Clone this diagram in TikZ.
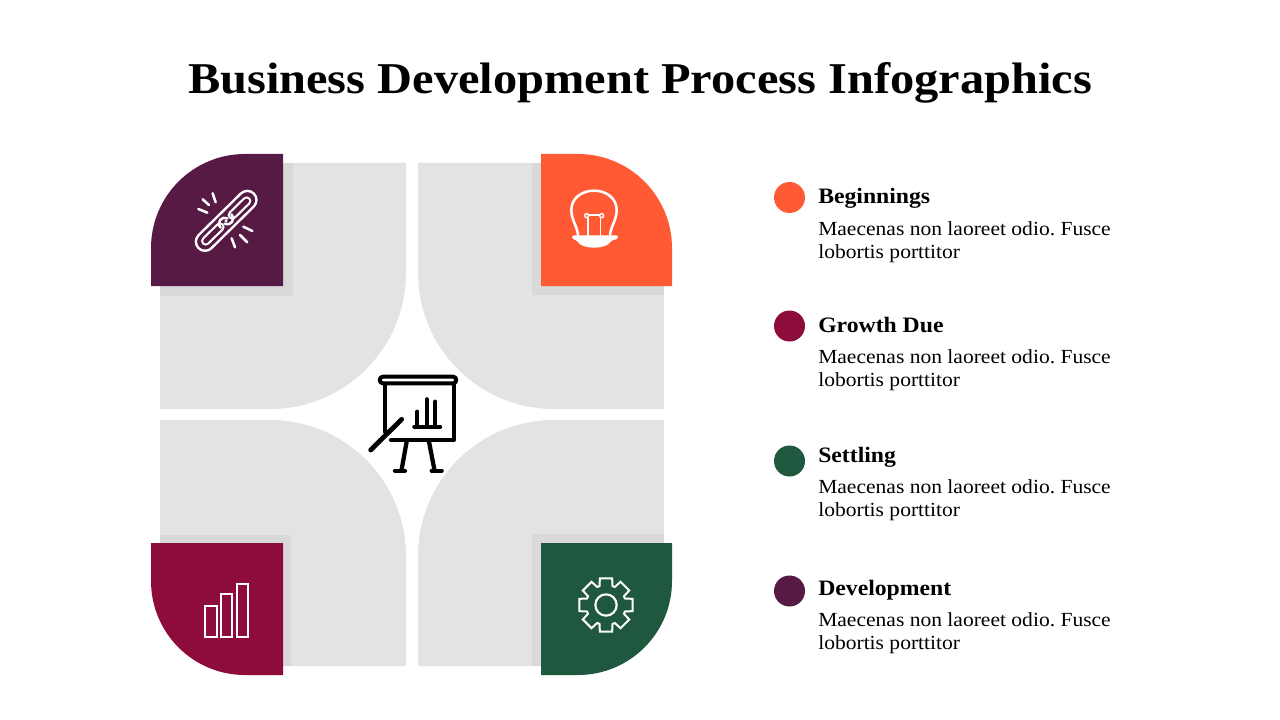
\documentclass[tikz,border=0pt]{standalone}
\usepackage{fontspec}
\setmainfont{Liberation Serif}
\newfontfamily\titlefont[FakeStretch=1.10]{Liberation Serif}
\newfontfamily\bodyfont[FakeStretch=1.077]{Liberation Serif}
\definecolor{cgray}{HTML}{E3E3E3}
\definecolor{cshadow}{HTML}{D9D9D9}
\definecolor{cpurple}{HTML}{561A45}
\definecolor{corange}{HTML}{FF5A33}
\definecolor{cmaroon}{HTML}{8E0C3C}
\definecolor{cgreen}{HTML}{20573F}
\tikzset{
  titletext/.style={anchor=base,inner sep=0pt,font=\titlefont\fontsize{33}{38}\selectfont\bfseries},
  headtext/.style={anchor=base west,inner sep=0pt,font=\bodyfont\fontsize{16.5}{20}\selectfont\bfseries},
  bodytext/.style={anchor=base west,inner sep=0pt,font=\bodyfont\fontsize{15}{17.25}\selectfont\frenchspacing},
  dot/.style={circle,inner sep=0pt,minimum size=23.25pt},
  iconline/.style={white,line width=1.9pt,line cap=round,line join=round},
  thinline/.style={white,line width=1.1pt},
  blackline/.style={black,line width=3.2pt,line cap=round,line join=round},
}
\begin{document}
\begin{tikzpicture}[x=0.75pt,y=-0.75pt]
\useasboundingbox (0,0) rectangle (1280,720);
% gray quarter panels
\fill[cgray] (160,163) -- (406,163) -- (406,273) arc[start angle=0,end angle=90,radius=136] -- (160,409) -- cycle;
\fill[cgray] (664,163) -- (418,163) -- (418,273) arc[start angle=180,end angle=90,radius=136] -- (664,409) -- cycle;
\fill[cgray] (160,666) -- (406,666) -- (406,556) arc[start angle=0,end angle=-90,radius=136] -- (160,420) -- cycle;
\fill[cgray] (664,666) -- (418,666) -- (418,556) arc[start angle=180,end angle=270,radius=136] -- (664,420) -- cycle;
% shadows
\fill[cshadow] (160,163) rectangle (293,296);
\fill[cshadow] (532,163) rectangle (664,295);
\fill[cshadow] (160,535) rectangle (291,666);
\fill[cshadow] (532,534) rectangle (664,666);
% white corners outside the rounded tiles
\fill[white] (150,153) rectangle (245,248);
\fill[white] (673,153) rectangle (578,248);
\fill[white] (150,676) rectangle (245,581);
\fill[white] (673,676) rectangle (578,581);
% coloured tiles
\fill[cpurple] (283,154) -- (283,286) -- (151,286) -- (151,248) arc[start angle=180,end angle=270,radius=94] -- cycle;
\fill[corange] (541,154) -- (541,286) -- (672,286) -- (672,248) arc[start angle=0,end angle=-90,radius=94] -- cycle;
\fill[cmaroon] (283,675) -- (283,543) -- (151,543) -- (151,581) arc[start angle=180,end angle=90,radius=94] -- cycle;
\fill[cgreen] (541,675) -- (541,543) -- (672,543) -- (672,581) arc[start angle=0,end angle=90,radius=94] -- cycle;
% link icon
\begin{scope}[shift={(190,185)},x=0.25pt,y=-0.25pt]
 \draw[white,line width=15.5pt,line cap=round] (45,170) -- (172,45);
 \draw[cpurple,line width=11.7pt,line cap=round] (45,170) -- (172,45);
 \draw[white,line width=7pt,line cap=round] (170,48) -- (127,90);
 \draw[cpurple,line width=3.6pt,line cap=round] (170,48) -- (127,90);
 \draw[white,line width=7pt,line cap=round] (47,168) -- (90,126);
 \draw[cpurple,line width=3.6pt,line cap=round] (47,168) -- (90,126);
 \draw[iconline] (92,128) .. controls (78,112) and (95,92) .. (112,100);
 \draw[iconline] (124,88) .. controls (138,104) and (122,124) .. (104,116);
 \fill[white] (108,108) circle (1.3pt);
 \draw[iconline] (38,43) -- (57,60);
 \draw[iconline] (68,25) -- (77,52);
 \draw[iconline] (25,72) -- (52,83);
 \draw[iconline] (160,125) -- (187,138);
 \draw[iconline] (150,150) -- (172,172);
 \draw[iconline] (125,160) -- (135,187);
\end{scope}
% bulb icon
\begin{scope}[shift={(565,185)},x=0.25pt,y=-0.25pt]
 \draw[iconline] (39,150) .. controls (36,122) and (19,105) .. (19,75) .. controls (19,40) and (50,17) .. (87,17) .. controls (124,17) and (155,40) .. (155,75) .. controls (155,105) and (138,122) .. (135,150);
 \draw[thinline] (65,92) circle (6);
 \draw[thinline] (110,92) circle (6);
 \draw[thinline] (71,90) -- (104,90);
 \draw[thinline] (69,98) -- (69,152);
 \draw[thinline] (106,98) -- (106,152);
 \fill[white,rounded corners=1.5pt] (21,151) -- (159,151) -- (159,163) -- (139,165) .. controls (125,194) and (50,194) .. (36,165) -- (21,163) -- cycle;
\end{scope}
% bars icon
\begin{scope}[shift={(140,525)},x=0.25pt,y=-0.25pt]
 \draw[white,line width=1.6pt] (196,244) rectangle (231,335);
 \draw[white,line width=1.6pt] (244,208) rectangle (276,335);
 \draw[white,line width=1.6pt] (292,176) rectangle (325,335);
\end{scope}
% gear icon
\begin{scope}[shift={(606,605)},x=0.25pt,y=-0.25pt]
 \draw[white,line width=1.5pt,line join=miter] (-19:60) \foreach \a in {0,45,...,315}{ -- (\a-19:60) -- (\a-13:82) -- (\a+13:82) -- (\a+19:60)} -- cycle;
 \draw[white,line width=1.6pt] (0,0) circle (32);
\end{scope}
% centre presentation icon
\begin{scope}[shift={(355,360)},x=0.25pt,y=-0.25pt]
 \draw[blackline,line width=3pt,rounded corners=2.5pt] (74,50) rectangle (304,70);
 \draw[blackline] (90,215) -- (90,72);
 \draw[blackline] (296,72) -- (296,240) -- (108,240);
 \draw[blackline,line width=3.6pt] (47,270) -- (140,178);
 \draw[blackline] (155,245) -- (140,328);
 \draw[blackline] (222,245) -- (238,328);
 \draw[blackline] (120,332) -- (150,332);
 \draw[blackline] (230,332) -- (260,332);
 \draw[blackline] (178,200) -- (255,200);
 \draw[blackline] (187,155) -- (187,200);
 \draw[blackline] (215,118) -- (215,200);
 \draw[blackline] (241,125) -- (241,200);
\end{scope}
% title
\node[titletext] (title) at (640,94) {Business Development Process Infographics};
% legend
\node[dot,fill=corange] (d1) at (789.5,197.5) {};
\node[dot,fill=cmaroon] (d2) at (789.5,326) {};
\node[dot,fill=cgreen] (d3) at (789.5,461) {};
\node[dot,fill=cpurple] (d4) at (789.5,591) {};
\node[headtext] (h1) at (818,204) {Beginnings};
\node[headtext] (h2) at (818,332) {Growth Due};
\node[headtext] (h3) at (818,462) {Settling};
\node[headtext] (h4) at (818,595) {Development};
\node[bodytext] (b1a) at (818,235) {Maecenas non laoreet odio. Fusce};
\node[bodytext] (b1b) at (818,258) {lobortis porttitor};
\node[bodytext] (b2a) at (818,363) {Maecenas non laoreet odio. Fusce};
\node[bodytext] (b2b) at (818,386) {lobortis porttitor};
\node[bodytext] (b3a) at (818,493) {Maecenas non laoreet odio. Fusce};
\node[bodytext] (b3b) at (818,516) {lobortis porttitor};
\node[bodytext] (b4a) at (818,626) {Maecenas non laoreet odio. Fusce};
\node[bodytext] (b4b) at (818,649) {lobortis porttitor};
\end{tikzpicture}
\end{document}
